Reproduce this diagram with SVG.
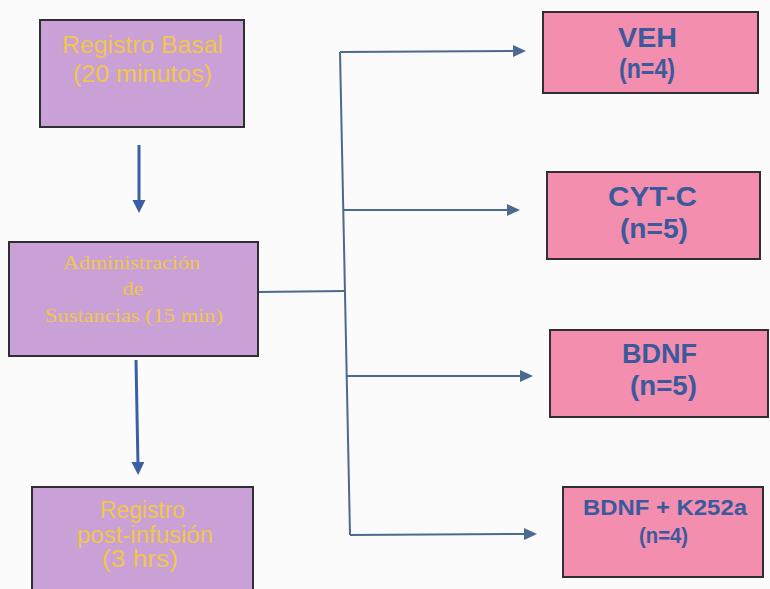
<svg xmlns="http://www.w3.org/2000/svg" width="770" height="589" viewBox="0 0 770 589">
  <style>
    .stage { fill: #c9a1d7; stroke: #2e2e34; stroke-width: 2; }
    .group { fill: #f38eaf; stroke: #2e2e34; stroke-width: 2; }
    .sans-y { font-family: "Liberation Sans", Arial, sans-serif; fill: #f1c64a; text-anchor: middle; }
    .serif-y { font-family: "Liberation Serif", "Times New Roman", serif; fill: #f1c64a; text-anchor: middle; }
    .lbl { font-family: "Liberation Sans", Arial, sans-serif; font-weight: bold; fill: #3a5a9c; text-anchor: middle; }
    .flow { stroke: #3b5ea6; stroke-width: 3; fill: none; }
    .branch { stroke: #4b6a8e; stroke-width: 2; fill: none; }
  </style>
  <defs>
    <marker id="headFlow" markerUnits="userSpaceOnUse" markerWidth="14" markerHeight="14" refX="4" refY="6.5" orient="auto">
      <path d="M0,0 L13,6.5 L0,13 z" fill="#3b5ea6"/>
    </marker>
    <marker id="headBranch" markerUnits="userSpaceOnUse" markerWidth="14" markerHeight="14" refX="5" refY="6" orient="auto">
      <path d="M0,0 L13,6 L0,12 z" fill="#4b6a8e"/>
    </marker>
  </defs>

  <rect width="770" height="589" fill="#fbfbfb"/>

  <!-- connectors -->
  <g id="connectors">
    <line class="flow" x1="139" y1="145" x2="139" y2="204" marker-end="url(#headFlow)"/>
    <line class="flow" x1="136" y1="360" x2="138" y2="466" marker-end="url(#headFlow)"/>
    <line class="branch" x1="258" y1="292" x2="345" y2="291"/>
    <line class="branch" x1="340" y1="52" x2="350" y2="535"/>
    <line class="branch" x1="340" y1="52" x2="518" y2="51" marker-end="url(#headBranch)"/>
    <line class="branch" x1="343" y1="210" x2="512" y2="210" marker-end="url(#headBranch)"/>
    <line class="branch" x1="347" y1="376" x2="525" y2="376" marker-end="url(#headBranch)"/>
    <line class="branch" x1="350" y1="535" x2="529" y2="534" marker-end="url(#headBranch)"/>
  </g>

  <!-- protocol stages -->
  <g id="registro-basal">
    <rect class="stage" x="40" y="20" width="204" height="107"/>
    <text class="sans-y" x="142.5" y="53" font-size="23" textLength="161" lengthAdjust="spacingAndGlyphs">Registro Basal</text>
    <text class="sans-y" x="142.5" y="82" font-size="23" textLength="139" lengthAdjust="spacingAndGlyphs">(20 minutos)</text>
  </g>

  <g id="administracion">
    <rect class="stage" x="9" y="242" width="249" height="114"/>
    <text class="serif-y" x="131.5" y="269" font-size="19" textLength="137" lengthAdjust="spacingAndGlyphs">Administración</text>
    <text class="serif-y" x="133" y="295" font-size="19" textLength="21" lengthAdjust="spacingAndGlyphs">de</text>
    <text class="serif-y" x="134" y="322" font-size="19" textLength="178" lengthAdjust="spacingAndGlyphs">Sustancias (15 min)</text>
  </g>

  <g id="registro-post">
    <rect class="stage" x="32" y="487" width="221" height="110"/>
    <text class="sans-y" x="142.5" y="518" font-size="23" textLength="85" lengthAdjust="spacingAndGlyphs">Registro</text>
    <text class="sans-y" x="145" y="543" font-size="23" textLength="136" lengthAdjust="spacingAndGlyphs">post-infusión</text>
    <text class="sans-y" x="140" y="567" font-size="23" textLength="76" lengthAdjust="spacingAndGlyphs">(3 hrs)</text>
  </g>

  <!-- treatment groups -->
  <g id="veh">
    <rect class="group" x="543" y="12" width="215" height="81"/>
    <text class="lbl" x="647.5" y="47" font-size="28" textLength="59" lengthAdjust="spacingAndGlyphs">VEH</text>
    <text class="lbl" x="647" y="78" font-size="27" textLength="56" lengthAdjust="spacingAndGlyphs">(n=4)</text>
  </g>

  <g id="cyt-c">
    <rect class="group" x="547" y="172" width="213" height="87"/>
    <text class="lbl" x="652.5" y="206" font-size="27" textLength="89" lengthAdjust="spacingAndGlyphs">CYT-C</text>
    <text class="lbl" x="654" y="238" font-size="27" textLength="68" lengthAdjust="spacingAndGlyphs">(n=5)</text>
  </g>

  <g id="bdnf">
    <rect class="group" x="550" y="330" width="218" height="87"/>
    <text class="lbl" x="659.5" y="363" font-size="27" textLength="75" lengthAdjust="spacingAndGlyphs">BDNF</text>
    <text class="lbl" x="663.5" y="395" font-size="27" textLength="67" lengthAdjust="spacingAndGlyphs">(n=5)</text>
  </g>

  <g id="bdnf-k252a">
    <rect class="group" x="563" y="487" width="200" height="90"/>
    <text class="lbl" x="665" y="515" font-size="22" textLength="164" lengthAdjust="spacingAndGlyphs">BDNF + K252a</text>
    <text class="lbl" x="663.5" y="543" font-size="22" textLength="49" lengthAdjust="spacingAndGlyphs">(n=4)</text>
  </g>
</svg>
